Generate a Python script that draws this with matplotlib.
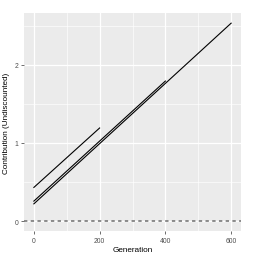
import matplotlib
matplotlib.use("Agg")
import matplotlib.pyplot as plt

plt.rcParams["font.family"] = ["Liberation Sans", "DejaVu Sans"]

# line endpoints
gen_a = [0, 200]
contrib_a = [0.43, 1.19]
gen_b = [0, 400]
contrib_b = [0.255, 1.79]
gen_c = [0, 600]
contrib_c = [0.22, 2.53]

x_ticks = [0, 200, 400, 600]
y_ticks = [0, 1, 2]

fig = plt.figure(figsize=(2.61, 2.55), dpi=100)
ax = fig.add_axes([24 / 261, 1 - 232 / 255, 217 / 261, 218 / 255])
ax.set_facecolor("#EBEBEB")
for s in ax.spines.values():
    s.set_visible(False)

ax.set_xlim(-30, 630)
ax.set_ylim(-0.127, 2.66)
ax.set_xticks(x_ticks)
ax.set_yticks(y_ticks)
ax.set_xticks([100, 300, 500], minor=True)
ax.set_yticks([0.5, 1.5, 2.5], minor=True)
ax.grid(which="major", color="white", lw=0.9)
ax.grid(which="minor", color="white", lw=0.45)
ax.set_axisbelow(True)
ax.tick_params(which="major", length=2, width=0.5, color="#333333",
               labelsize=4.9, labelcolor="#4D4D4D", pad=2)
ax.tick_params(which="minor", length=0)

ax.axhline(0, color="#6E6E6E", lw=1.1, ls=(0, (2.2, 2.2)))
ax.plot(gen_a, contrib_a, color="black", lw=0.8)
ax.plot(gen_b, contrib_b, color="black", lw=0.8)
ax.plot(gen_c, contrib_c, color="black", lw=0.8)

ax.set_xlabel("Generation", fontsize=5.9, labelpad=1.8)
ax.set_ylabel("Contribution (Undiscounted)", fontsize=5.9, labelpad=3.5)

fig.savefig("out.png", dpi=100)
